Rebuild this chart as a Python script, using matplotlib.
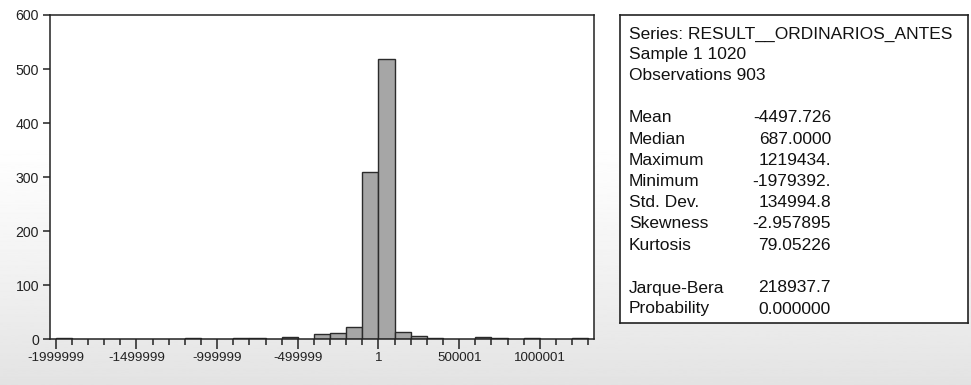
import numpy as np
import matplotlib
matplotlib.use("Agg")
import matplotlib.pyplot as plt
from matplotlib.ticker import MultipleLocator, FixedLocator

plt.rcParams["font.family"] = ["Liberation Sans", "DejaVu Sans"]

# histogram of the series: bins of 100000 starting at -1999999
bin_start = -1999999
bin_width = 100000
counts = [2, 0, 0, 0, 0, 0, 0, 0, 2, 0, 0, 2, 2, 0, 5, 0, 9, 11, 23,
          310, 518, 14, 7, 2, 0, 0, 5, 2, 0, 2, 0, 0, 2]
x_ticks = [-1999999, -1499999, -999999, -499999, 1, 500001, 1000001]
y_ticks = [0, 100, 200, 300, 400, 500, 600]

header = ["Series: RESULT__ORDINARIOS_ANTES", "Sample 1 1020", "Observations 903"]
stat_names = ["Mean", "Median", "Maximum", "Minimum", "Std. Dev.", "Skewness", "Kurtosis"]
stat_values = ["-4497.726", "687.0000", "1219434.", "-1979392.", "134994.8", "-2.957895", "79.05226"]
test_names = ["Jarque-Bera", "Probability"]
test_values = ["218937.7", "0.000000"]

W, H = 971, 385
fig = plt.figure(figsize=(W / 100, H / 100), dpi=100)


def fx(px):
    return px / W


def fy(py):
    return 1 - py / H


# soft grey gradient behind everything
bg = fig.add_axes([0, 0, 1, 1], zorder=-10)
rows = np.linspace(0, 1, 400)
shade = np.clip((rows - 0.35) / 0.65, 0, 1)
grad = 1 - 0.11 * shade ** 1.2
bg.imshow(grad[:, None], aspect="auto", cmap="gray", vmin=0, vmax=1,
          extent=[0, 1, 0, 1], origin="upper")
bg.axis("off")

# histogram panel
ax = fig.add_axes([fx(50), fy(339.3), fx(594 - 50), (339.3 - 15) / H])
ax.set_facecolor("white")
edges = bin_start + bin_width * np.arange(len(counts))
cnt = np.array(counts)
keep = cnt > 0
ax.bar(edges[keep], cnt[keep], width=bin_width, align="edge",
       color="#a6a6a6", edgecolor="#2b2b2b", linewidth=1.0, zorder=2)

ax.set_xlim(-2035000, 1335000)
ax.set_ylim(0, 600)
ax.xaxis.set_major_locator(FixedLocator(x_ticks))
ax.xaxis.set_minor_locator(FixedLocator(list(range(bin_start, 1300002, bin_width))))
ax.set_xticklabels([str(t) for t in x_ticks])
ax.set_yticks(y_ticks)

for side in ax.spines.values():
    side.set_color("#222222")
    side.set_linewidth(1.1)

ax.tick_params(axis="x", which="major", direction="out", length=7.2, width=1.1,
               pad=2, labelsize=9.6, colors="#222222")
ax.tick_params(axis="x", which="minor", direction="out", length=4.1, width=1.1,
               colors="#222222")
ax.tick_params(axis="y", which="major", direction="out", length=5, width=1.1,
               pad=3, labelsize=10.2, colors="#222222")

# statistics box
box = fig.add_axes([fx(620), fy(323), fx(968 - 620), (323 - 15) / H])
box.set_facecolor("white")
box.set_xticks([])
box.set_yticks([])
for side in box.spines.values():
    side.set_color("#222222")
    side.set_linewidth(1.2)

fs = 12.5
tx = fx(629)
vx = fx(831)
for i, line in enumerate(header):
    fig.text(tx, fy(34 + 21 * i), line, fontsize=fs, va="center", ha="left", color="#111111")

for i, (name, val) in enumerate(zip(stat_names, stat_values)):
    y = fy(118 + 21.2 * i)
    fig.text(tx, y, name, fontsize=fs, va="center", ha="left", color="#111111")
    fig.text(vx, y, val, fontsize=fs, va="center", ha="right", color="#111111")

for i, (name, val) in enumerate(zip(test_names, test_values)):
    y = fy(288 + 21 * i)
    fig.text(tx, y, name, fontsize=fs, va="center", ha="left", color="#111111")
    fig.text(vx, y, val, fontsize=fs, va="center", ha="right", color="#111111")

fig.savefig("out.png", dpi=100)
